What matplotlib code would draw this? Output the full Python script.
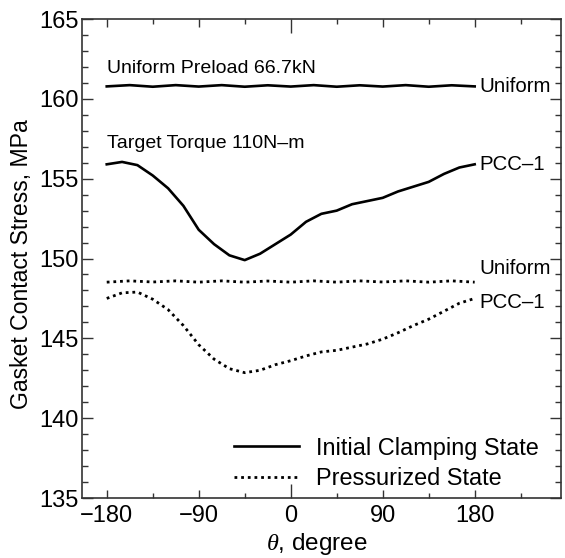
import numpy as np
import matplotlib
matplotlib.use('Agg')
import matplotlib.pyplot as plt
from matplotlib.ticker import MultipleLocator

plt.rcParams['font.family'] = ['Liberation Sans', 'DejaVu Sans']
plt.rcParams['mathtext.fontset'] = 'custom'
plt.rcParams['mathtext.it'] = 'Liberation Serif:italic'

# bolt angle positions, degree
theta = [-180, -165, -150, -135, -120, -105, -90, -75, -60, -45, -30, -15, 0,
         15, 30, 45, 60, 75, 90, 105, 120, 135, 150, 165, 180]
theta_u = [-180, -157.5, -135, -112.5, -90, -67.5, -45, -22.5, 0,
           22.5, 45, 67.5, 90, 112.5, 135, 157.5, 180]

# initial clamping state
init_uniform = [160.78, 160.86, 160.76, 160.86, 160.77, 160.86, 160.76, 160.85, 160.77,
                160.86, 160.76, 160.85, 160.77, 160.86, 160.76, 160.85, 160.78]
init_pcc = [155.9, 156.05, 155.85, 155.2, 154.4, 153.3, 151.8, 150.9, 150.2, 149.9,
            150.3, 150.9, 151.5, 152.3, 152.8, 153.0, 153.4, 153.6, 153.8, 154.2,
            154.5, 154.8, 155.3, 155.7, 155.9]

# pressurized state
pres_uniform = [148.52, 148.6, 148.53, 148.6, 148.52, 148.6, 148.52, 148.59, 148.52,
                148.6, 148.52, 148.6, 148.53, 148.6, 148.52, 148.6, 148.52]
pres_pcc = [147.5, 147.85, 147.9, 147.45, 146.8, 145.8, 144.6, 143.7, 143.1, 142.85,
            143.0, 143.35, 143.6, 143.9, 144.15, 144.25, 144.45, 144.65, 144.95, 145.35,
            145.8, 146.2, 146.7, 147.2, 147.5]

fig = plt.figure(figsize=(5.65, 5.58), dpi=100)
ax = fig.add_axes([0.1446, 0.1075, 0.8484, 0.8584])

dots = (0, (1.0, 1.4))
ax.plot(theta_u, init_uniform, color='black', lw=1.9, label='Initial Clamping State')
ax.plot(theta, init_pcc, color='black', lw=1.9)
ax.plot(theta_u, pres_uniform, color='black', lw=2.0, ls=dots, dash_capstyle='butt',
        label='Pressurized State')
ax.plot(theta, pres_pcc, color='black', lw=2.0, ls=dots, dash_capstyle='butt')

# curve labels
ax.text(185, init_uniform[-1], 'Uniform', fontsize=14.7, va='center', ha='left')
ax.text(185, init_pcc[-1], 'PCC\u20131', fontsize=14.7, va='center', ha='left')
ax.text(185, 149.35, 'Uniform', fontsize=14.7, va='center', ha='left')
ax.text(185, 147.25, 'PCC\u20131', fontsize=14.7, va='center', ha='left')
ax.text(-180, 161.9, 'Uniform Preload 66.7kN', fontsize=14, va='center', ha='left')
ax.text(-180, 157.2, 'Target Torque 110N\u2013m', fontsize=14, va='center', ha='left')

ax.set_xlim(-204.5, 264.5)
ax.set_ylim(135, 165)
ax.xaxis.set_minor_locator(MultipleLocator(45))
ax.yaxis.set_major_locator(MultipleLocator(5))
ax.yaxis.set_minor_locator(MultipleLocator(1))
ax.set_xticks([-180, -90, 0, 90, 180])
ax.set_xticklabels(['\u2212180', '\u221290', '0', '90', '180'])

ax.tick_params(which='both', direction='in', top=True, right=True,
               labelsize=17, width=1.0, color='#333333')
ax.tick_params(axis='x', which='major', length=6, pad=5)
ax.tick_params(axis='x', which='minor', length=3.5)
ax.tick_params(axis='y', which='major', length=8, pad=2)
ax.tick_params(axis='y', which='minor', length=4)
for t in ax.xaxis.get_major_ticks():
    if t.get_loc() == 0:
        t.tick1line.set_markersize(10)
        t.tick2line.set_markersize(10)
for sp in ax.spines.values():
    sp.set_linewidth(1.2)
    sp.set_color('#333333')

ax.set_xlabel(r'$\theta$, degree', fontsize=17.5)
ax.xaxis.set_label_coords(0.49, -0.068)
ax.set_ylabel('Gasket Contact Stress, MPa', fontsize=16.6)
ax.yaxis.set_label_coords(-0.102, 0.4885)

ax.legend(loc='lower right', fontsize=16.9, frameon=False, handlelength=2.8,
          handletextpad=0.7, labelspacing=0.33, borderpad=0.0, borderaxespad=0.0,
          bbox_to_anchor=(0.953, 0.016))

fig.savefig('out.png', dpi=100)
